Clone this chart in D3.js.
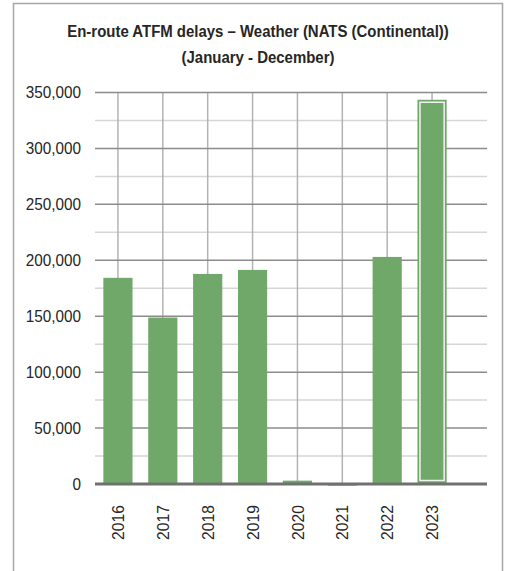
<!DOCTYPE html>
<html>
<head>
<meta charset="utf-8">
<script src="https://cdn.jsdelivr.net/npm/d3@7"></script>
<style>
  body { margin: 0; background: #fff; }
  svg { font-family: "Liberation Sans", Arial, sans-serif; }
  .tick text { fill: #262626; font-size: 17px; }
  .title { fill: #262626; font-size: 17px; font-weight: bold; }
</style>
</head>
<body>
<div id="chart"></div>
<script>
// chart data
var years = ["2016", "2017", "2018", "2019", "2020", "2021", "2022", "2023"];
var delays = [184300, 148800, 187800, 191400, 3000, -1500, 203000, 343500];
var yTicks = [0, 50000, 100000, 150000, 200000, 250000, 300000, 350000];
var minorTicks = [25000, 75000, 125000, 175000, 225000, 275000, 325000];
var highlightYear = "2023";
var titleLines = ["En-route ATFM delays \u2013 Weather (NATS (Continental))", "(January - December)"];

// svg size and plot area
var width = 507;
var height = 571;
var plotLeft = 95;
var plotRight = 487;
var plotTop = 92.5;
var plotBottom = 484;
var green = "#6fa869";
// the source uses a condensed face, squeeze the text a little
var squeeze = 0.88;

var svg = d3.select("#chart")
    .append("svg")
    .attr("width", width)
    .attr("height", height);

// outer frame
svg.append("rect")
    .attr("x", 13.5)
    .attr("y", 3.5)
    .attr("width", 489)
    .attr("height", 620)
    .attr("fill", "none")
    .attr("stroke", "#a6a6a6")
    .attr("stroke-width", 1.5);

// title
svg.selectAll(".title")
    .data(titleLines)
    .enter()
    .append("text")
    .attr("class", "title")
    .attr("transform", function(d, i) { return `translate(258, ${36.5 + i * 26.5}) scale(${squeeze}, 1)`; })
    .attr("text-anchor", "middle")
    .text(function(d) { return d; });

// scales
var xScale = d3.scaleBand()
    .domain(years)
    .range([plotLeft + 0.5, plotLeft + 359.5])
    .paddingInner(0.35)
    .paddingOuter(0.175);

var yScale = d3.scaleLinear()
    .domain([0, 350000])
    .range([plotBottom, plotTop]);

// minor gridlines
svg.append("g")
    .selectAll("line")
    .data(minorTicks)
    .enter()
    .append("line")
    .attr("x1", plotLeft)
    .attr("x2", plotRight)
    .attr("y1", function(d) { return yScale(d); })
    .attr("y2", function(d) { return yScale(d); })
    .attr("stroke", "#d6d6d6")
    .attr("stroke-width", 1.5);

// vertical gridlines through the category centres
svg.append("g")
    .selectAll("line")
    .data(years)
    .enter()
    .append("line")
    .attr("x1", function(d) { return xScale(d) + xScale.bandwidth() / 2; })
    .attr("x2", function(d) { return xScale(d) + xScale.bandwidth() / 2; })
    .attr("y1", plotTop)
    .attr("y2", plotBottom)
    .attr("stroke", "#b3b3b3")
    .attr("stroke-width", 1.5);

// major gridlines
svg.append("g")
    .selectAll("line")
    .data(yTicks.slice(1))
    .enter()
    .append("line")
    .attr("x1", plotLeft)
    .attr("x2", plotRight)
    .attr("y1", function(d) { return yScale(d); })
    .attr("y2", function(d) { return yScale(d); })
    .attr("stroke", "#8c8c8c")
    .attr("stroke-width", 1.5);

// y axis labels
var yAxis = d3.axisLeft(yScale)
    .tickValues(yTicks)
    .tickSize(0)
    .tickPadding(0)
    .tickFormat(d3.format(","));

svg.append("g")
    .attr("class", "yAxis")
    .attr("transform", "translate(81,0)")
    .call(yAxis)
    .call(function(g) { g.select(".domain").remove(); })
    .selectAll("text")
    .attr("transform", `scale(${squeeze + 0.02}, 1)`);

// bars
svg.append("g")
    .selectAll("rect")
    .data(years)
    .enter()
    .append("rect")
    .attr("x", function(d) { return xScale(d); })
    .attr("width", xScale.bandwidth())
    .attr("y", function(d, i) { return yScale(Math.max(0, delays[i])); })
    .attr("height", function(d, i) { return Math.abs(yScale(delays[i]) - yScale(0)); })
    .attr("fill", green);

// highlight outline on the selected year
var hi = years.indexOf(highlightYear);
svg.append("rect")
    .attr("x", xScale(highlightYear) + 2.5)
    .attr("width", xScale.bandwidth() - 5)
    .attr("y", yScale(delays[hi]) + 2.5)
    .attr("height", yScale(0) - yScale(delays[hi]) - 6)
    .attr("fill", "none")
    .attr("stroke", "#f2f2f2")
    .attr("stroke-width", 1.5);

// zero line
svg.append("line")
    .attr("x1", plotLeft)
    .attr("x2", plotRight)
    .attr("y1", yScale(0))
    .attr("y2", yScale(0))
    .attr("stroke", "#707070")
    .attr("stroke-width", 3);

// x axis labels, rotated
var xAxis = d3.axisBottom(xScale).tickSize(0);

svg.append("g")
    .attr("class", "xAxis")
    .attr("transform", `translate(0, ${plotBottom})`)
    .call(xAxis)
    .call(function(g) { g.select(".domain").remove(); })
    .selectAll("text")
    .attr("transform", `rotate(-90) scale(${squeeze + 0.04}, 1)`)
    .attr("y", 0)
    .attr("x", -23)
    .attr("dy", "0.36em")
    .style("text-anchor", "end");
</script>
</body>
</html>
